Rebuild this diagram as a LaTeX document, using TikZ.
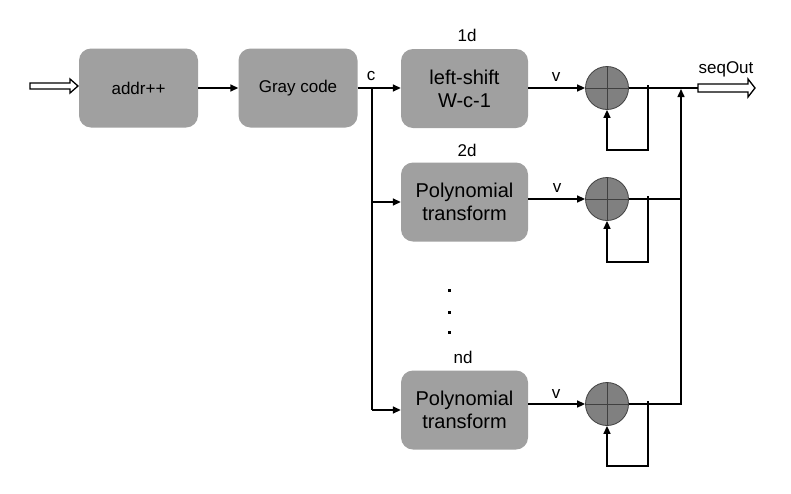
\documentclass[tikz,border=0pt]{standalone}
\usepackage{fontspec}
\setmainfont{Liberation Sans}
\usetikzlibrary{arrows.meta}
\begin{document}
\begin{tikzpicture}[x=1pt,y=-1pt,
  blk/.style={draw=none,fill=boxgray,rounded corners=12pt,minimum width=127pt,minimum height=79pt,inner sep=0pt,align=center,font=\fontsize{20}{23}\selectfont},
  lblk/.style={blk,minimum width=119pt,font=\fontsize{17}{20}\selectfont},
  sum/.style={circle,draw=sumline,fill=sumgray,minimum size=43pt,inner sep=0pt,line width=0.8pt},
  wire/.style={line width=1.5pt,black},
  arr/.style={wire,-{Triangle[length=8pt,width=7pt]}},
  lbl/.style={font=\fontsize{17}{19}\selectfont,inner sep=0pt},
  hollow/.style={draw=black,fill=white,line width=1.3pt,line join=miter}]
\definecolor{boxgray}{HTML}{A0A0A0}
\definecolor{sumgray}{HTML}{808080}
\definecolor{sumline}{HTML}{404040}
\useasboundingbox (0,0) rectangle (791,493);

% blocks
\node[lblk] (addr) at (138.5,88) {addr++};
\node[lblk] (gray) at (298,88) {Gray code};
\node[blk] (b1) at (464.5,88.5) {left-shift\\W-c-1};
\node[blk] (b2) at (464.5,202) {Polynomial\\transform};
\node[blk] (bn) at (464.5,410) {Polynomial\\transform};

% adders
\foreach \n/\y in {s1/88,s2/199,sn/404}{
  \node[sum] (\n) at (607,\y) {};
  \draw[sumline,line width=0.8pt] (\n.west) -- (\n.east) (\n.north) -- (\n.south);
}

% labels
\node[lbl] (l1) at (467,35) {1d};
\node[lbl] (l2) at (467,150) {2d};
\node[lbl] (ln) at (463,357) {nd};
\node[lbl] (lc) at (371,76) {c};
\node[lbl] (v1) at (556,77) {v};
\node[lbl] (v2) at (557,188) {v};
\node[lbl] (vn) at (556,394) {v};
\node[lbl] (so) at (726,69) {seqOut};
\foreach \y in {290,312,332}{\fill (447.5,\y-1.5) rectangle ++(3,3);}

% input hollow arrow
\coordinate (in) at (30,86);
\draw[hollow] (30,83) -- (70,83) -- (70,79) -- (78,86) -- (70,93) -- (70,89) -- (30,89) -- cycle;

% main chain
\draw[arr] (addr.east) -- (gray.west);
\coordinate (br) at (372,88);
\draw[arr] (gray.east |- br) -- (b1.west |- br);
\draw[wire] (br) -- (372,410);
\draw[arr] (372,202) -- (b2.west);
\draw[arr] (372,410) -- (bn.west);

% block to adders
\draw[arr] (b1.east |- s1) -- (s1.west);
\draw[arr] (b2.east |- s2) -- (s2.west);
\draw[arr] (bn.east |- sn) -- (sn.west);

% feedback loops
\draw[arr] (648,85) -- (648,150) -- (607,150) -- (s1.south);
\draw[arr] (648,196) -- (648,262) -- (607,262) -- (s2.south);
\draw[arr] (648,401) -- (648,466) -- (607,466) -- (sn.south);

% collector
\coordinate (out) at (698,88);
\draw[wire] (s1.east) -- (out);
\draw[wire] (s2.east) -- (681,199);
\draw[wire] (sn.east) -- (681,404) -- (681,199);
\draw[arr] (681,199) -- (681,89);

% output hollow arrow
\draw[hollow] (698,84) -- (748,84) -- (748,79) -- (755,88) -- (748,97) -- (748,92) -- (698,92) -- cycle;
\end{tikzpicture}
\end{document}
